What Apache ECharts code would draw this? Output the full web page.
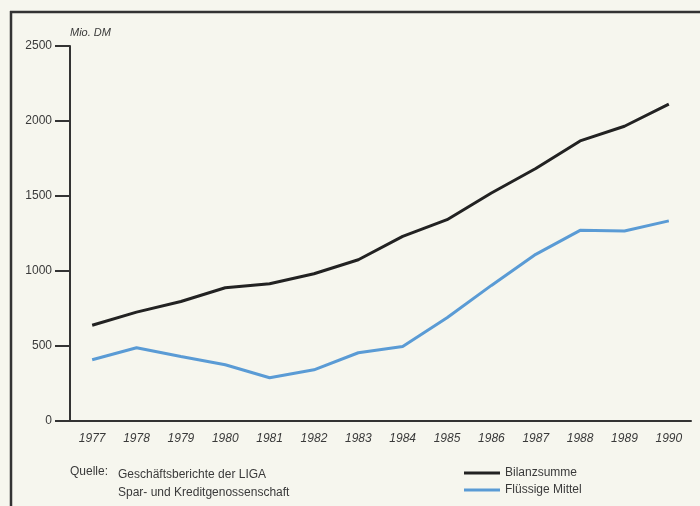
<!DOCTYPE html>
<html>
<head>
<meta charset="utf-8">
<script src="https://cdn.jsdelivr.net/npm/echarts@6/dist/echarts.min.js"></script>
<style>
html,body{margin:0;padding:0;background:#f6f6ee;}
#c{width:700px;height:506px;}
</style>
</head>
<body>
<div id="c"></div>
<script>
const years = ['1977','1978','1979','1980','1981','1982','1983','1984','1985','1986','1987','1988','1989','1990'];
const bilanzsumme = [638, 726, 797, 888, 915, 982, 1075, 1231, 1342, 1520, 1683, 1867, 1965, 2112];
const fluessigeMittel = [408, 488, 430, 375, 288, 341, 455, 497, 688, 904, 1111, 1271, 1267, 1334];
const yTicks = [0, 500, 1000, 1500, 2000, 2500];
const seriesNames = ['Bilanzsumme', 'Flüssige Mittel'];

const txt = '#3a3a3a';
const font = 'Liberation Sans';
const chart = echarts.init(document.getElementById('c'));
chart.setOption({
  backgroundColor: '#f6f6ee',
  animation: false,
  grid: {left: 70, right: 9, top: 46, bottom: 85},
  xAxis: {
    type: 'category', data: years, boundaryGap: true,
    axisLine: {lineStyle: {color: '#333', width: 2}},
    axisTick: {alignWithLabel: true, length: 10, lineStyle: {color: '#333', width: 2}},
    axisLabel: {color: txt, fontFamily: font, fontSize: 12, fontStyle: 'italic', margin: 12}
  },
  yAxis: {
    type: 'value', min: yTicks[0], max: yTicks[yTicks.length-1], interval: 500,
    splitLine: {show: false},
    axisLine: {show: true, lineStyle: {color: '#333', width: 2}},
    axisTick: {show: true, length: 15, lineStyle: {color: '#333', width: 2}},
    axisLabel: {color: txt, fontFamily: font, fontSize: 12, margin: 18, formatter: v => String(v)}
  },
  legend: {
    orient: 'vertical', left: 464, top: 467, itemWidth: 36, itemHeight: 3, itemGap: 5,
    padding: 0, icon: 'rect',
    textStyle: {color: txt, fontFamily: font, fontSize: 12},
    data: seriesNames
  },
  series: [
    {name: seriesNames[0], type: 'line', data: bilanzsumme, symbol: 'none',
     lineStyle: {color: '#222222', width: 3}, itemStyle: {color: '#222222'}},
    {name: seriesNames[1], type: 'line', data: fluessigeMittel, symbol: 'none',
     lineStyle: {color: '#5a9bd5', width: 3}, itemStyle: {color: '#5a9bd5'}}
  ],
  graphic: [
    {type: 'line', shape: {x1: 10, y1: 12, x2: 700, y2: 12}, style: {stroke: '#333', lineWidth: 2.5}},
    {type: 'line', shape: {x1: 11, y1: 11, x2: 11, y2: 506}, style: {stroke: '#333', lineWidth: 2.5}},
    {type: 'text', left: 70, top: 27, style: {text: 'Mio. DM', fill: txt, font: 'italic 11px "Liberation Sans"'}},
    {type: 'text', left: 70, top: 466, style: {text: 'Quelle:', fill: txt, font: '12px "Liberation Sans"'}},
    {type: 'text', left: 118, top: 466, style: {text: 'Geschäftsberichte der LIGA\nSpar- und Kreditgenossenschaft', fill: txt, font: '12px "Liberation Sans"', lineHeight: 18}}
  ]
});
</script>
</body>
</html>
